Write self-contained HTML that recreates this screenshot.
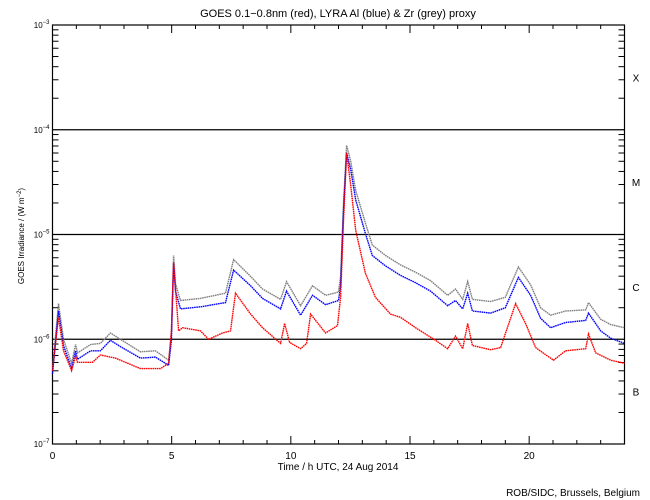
<!DOCTYPE html>
<html><head><meta charset="utf-8"><style>
body{margin:0;background:#fff;}
svg{display:block;font-family:"Liberation Sans",sans-serif;}
</style></head><body>
<svg id="chart" width="650" height="500" viewBox="0 0 650 500"></svg>
<script>
const redHours=[0,0.25,0.46,0.8,0.97,1.05,1.68,2.01,2.64,3.69,4.53,4.87,4.99,5.08,5.29,5.46,6.21,6.55,7.13,7.47,7.68,8.31,8.81,9.57,9.74,9.95,10.41,10.66,10.83,11.46,11.96,12.09,12.21,12.34,12.51,12.72,13.13,13.55,14.18,14.6,15.23,16.07,16.58,16.91,17.21,17.42,17.62,18.38,18.8,19.43,19.85,20.27,21.02,21.53,22.37,22.49,22.79,23.42,24];
const redLog=[-6.30,-5.79,-6.11,-6.30,-6.16,-6.22,-6.22,-6.15,-6.18,-6.28,-6.28,-6.23,-5.92,-5.27,-5.92,-5.89,-5.92,-6.00,-5.94,-5.92,-5.56,-5.76,-5.89,-6.04,-5.85,-6.03,-6.09,-6.04,-5.76,-5.94,-5.87,-5.60,-4.87,-4.22,-4.53,-4.96,-5.37,-5.60,-5.76,-5.79,-5.89,-6.01,-6.09,-5.97,-6.09,-5.85,-6.06,-6.10,-6.08,-5.66,-5.85,-6.08,-6.20,-6.11,-6.09,-5.95,-6.13,-6.20,-6.23];
const blueHours=[0,0.25,0.46,0.8,0.97,1.05,1.6,2.01,2.43,2.85,3.69,4.32,4.87,4.99,5.08,5.16,5.37,6.21,7.26,7.6,8.31,8.81,9.57,9.82,10.41,10.91,11.46,12.0,12.09,12.21,12.34,12.51,12.72,13.13,13.42,13.97,14.6,15.23,15.86,16.58,16.91,17.21,17.42,17.62,18.38,19.0,19.55,20.06,20.48,20.9,21.53,22.37,22.49,23.0,23.42,24];
const blueLog=[-6.33,-5.73,-6.06,-6.28,-6.11,-6.19,-6.11,-6.11,-6.01,-6.07,-6.18,-6.17,-6.25,-6.01,-5.27,-5.54,-5.71,-5.69,-5.65,-5.34,-5.49,-5.61,-5.71,-5.54,-5.77,-5.58,-5.67,-5.63,-5.49,-4.77,-4.22,-4.38,-4.67,-4.99,-5.20,-5.30,-5.39,-5.46,-5.54,-5.68,-5.63,-5.71,-5.56,-5.73,-5.75,-5.70,-5.41,-5.58,-5.80,-5.89,-5.84,-5.82,-5.75,-5.92,-5.99,-6.04];
const greyLog=[-6.28,-5.66,-6.00,-6.23,-6.05,-6.13,-6.05,-6.04,-5.94,-6.00,-6.12,-6.11,-6.20,-5.95,-5.20,-5.47,-5.63,-5.61,-5.56,-5.24,-5.40,-5.52,-5.62,-5.45,-5.68,-5.49,-5.58,-5.55,-5.40,-4.70,-4.15,-4.30,-4.58,-4.89,-5.10,-5.20,-5.29,-5.36,-5.44,-5.58,-5.52,-5.62,-5.45,-5.62,-5.64,-5.60,-5.31,-5.48,-5.70,-5.77,-5.73,-5.72,-5.65,-5.81,-5.86,-5.89];
const xTicks=[0,5,10,15,20];
const yTicks=[-7,-6,-5,-4,-3];
const classes=["B","C","M","X"];

const NS="http://www.w3.org/2000/svg";
const svg=document.getElementById('chart');
const L=52.5,R=624.5,T=25,B=444;
const xs=h=>L+(R-L)*h/24;
const ys=v=>B-(B-T)*(v+7)/4;
function el(tag,attrs,parent){const e=document.createElementNS(NS,tag);for(const k in attrs)e.setAttribute(k,attrs[k]);(parent||svg).appendChild(e);return e;}
function txt(x,y,s,size,anchor){const t=el('text',{x:x,y:y,'font-size':size,'text-anchor':anchor||'start',fill:'#000'});t.textContent=s;return t;}

// frame
const frame=el('rect',{x:L,y:T,width:R-L,height:B-T,fill:'none',stroke:'#000','stroke-width':1.2});



// y ticks + gridlines
yTicks.forEach((d,i)=>{
  const y=ys(d);
  if(d>-7&&d<-3){const g=el('line',{x1:L,x2:R,y1:y,y2:y,stroke:'#000','stroke-width':1.2});
    
    }
  const lab=el('text',{x:L-3,y:y+3,'font-size':8,'text-anchor':'end',fill:'#000'});
  
  
  lab.innerHTML='10<tspan dy="-4" font-size="6">−'+(-d)+'</tspan>';
  if(d<-3){for(let m=2;m<=9;m++){const yy=ys(d+Math.log10(m));
    el('line',{x1:L,x2:L+6,y1:yy,y2:yy,stroke:'#000'});
    el('line',{x1:R,x2:R-6,y1:yy,y2:yy,stroke:'#000'});}}
});
// x ticks
for(let h=0;h<=24;h++){
  const x=xs(h);const len=h%5===0?8:4;
  el('line',{x1:x,x2:x,y1:B,y2:B-len,stroke:'#000'});
  el('line',{x1:x,x2:x,y1:T,y2:T+len,stroke:'#000'});
}
xTicks.forEach(h=>{const t=txt(xs(h),459,String(h),10,'middle');
  
  });
classes.forEach((c,i)=>{const t=txt(636,ys(-6.5+i)+4,c,10,'middle');
  
  });

function series(hours,vals,color,name){
  const pts=hours.map((h,i)=>xs(h).toFixed(1)+','+ys(vals[i]).toFixed(1)).join(' ');
  const p=el('polyline',{points:pts,fill:'none',stroke:color,'stroke-width':1.4,'stroke-dasharray':'1.6 0.6'});
  
  
}
series(blueHours,greyLog,'#808080','zr-grey-series');
series(blueHours,blueLog,'#0000ff','al-blue-series');
series(redHours,redLog,'#ff0000','goes-red-series');

const title=txt(338,17,'GOES 0.1−0.8nm (red), LYRA Al (blue) & Zr (grey) proxy',11,'middle');


const xt=txt(338,470,'Time / h UTC, 24 Aug 2014',10,'middle');


const yt=el('text',{x:0,y:0,'font-size':8,'text-anchor':'middle',fill:'#000',transform:'translate(24,236) rotate(-90)'});
yt.innerHTML='GOES Irradiance / (W m<tspan dy="-3" font-size="6">−2</tspan><tspan dy="3">)</tspan>';


const cr=txt(640,496,'ROB/SIDC, Brussels, Belgium',10,'end');


</script>
</body></html>
